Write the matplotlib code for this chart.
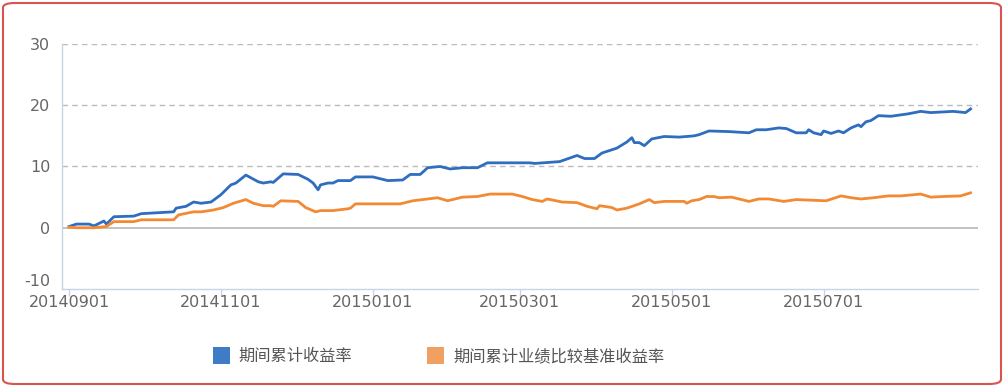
import matplotlib
matplotlib.use("Agg")
import matplotlib.pyplot as plt
from matplotlib.patches import Patch, FancyBboxPatch
import pandas as pd

plt.rcParams['font.family'] = ['Noto Sans CJK SC', 'DejaVu Sans']

series1_name = "期间累计收益率"
series2_name = "期间累计业绩比较基准收益率"

fund_dates = ["2014-09-01", "2014-09-04", "2014-09-09", "2014-09-11", "2014-09-15", "2014-09-16",
              "2014-09-19", "2014-09-27", "2014-09-30", "2014-10-13", "2014-10-14", "2014-10-18",
              "2014-10-21", "2014-10-24", "2014-10-28", "2014-11-01", "2014-11-03", "2014-11-05",
              "2014-11-07", "2014-11-11", "2014-11-16", "2014-11-18", "2014-11-21", "2014-11-22",
              "2014-11-26", "2014-12-02", "2014-12-06", "2014-12-08", "2014-12-10", "2014-12-11",
              "2014-12-14", "2014-12-16", "2014-12-18", "2014-12-23", "2014-12-25", "2015-01-01",
              "2015-01-07", "2015-01-13", "2015-01-16", "2015-01-20", "2015-01-23", "2015-01-28",
              "2015-02-01", "2015-02-06", "2015-02-12", "2015-02-16", "2015-03-05", "2015-03-07",
              "2015-03-17", "2015-03-24", "2015-03-27", "2015-03-31", "2015-04-03", "2015-04-09",
              "2015-04-13", "2015-04-15", "2015-04-16", "2015-04-18", "2015-04-20", "2015-04-23",
              "2015-04-28", "2015-05-04", "2015-05-10", "2015-05-12", "2015-05-16", "2015-05-24",
              "2015-06-01", "2015-06-04", "2015-06-08", "2015-06-13", "2015-06-16", "2015-06-20",
              "2015-06-24", "2015-06-25", "2015-06-27", "2015-06-30", "2015-07-01", "2015-07-04",
              "2015-07-07", "2015-07-09", "2015-07-12", "2015-07-15", "2015-07-16", "2015-07-18",
              "2015-07-20", "2015-07-23", "2015-07-28", "2015-08-04", "2015-08-09", "2015-08-13",
              "2015-08-22", "2015-08-27", "2015-08-29"]
fund_values = [0.2, 0.6, 0.6, 0.3, 1.1, 0.6,
               1.8, 1.9, 2.3, 2.6, 3.2, 3.5,
               4.2, 4.0, 4.2, 5.4, 6.2, 7.0,
               7.3, 8.6, 7.5, 7.3, 7.5, 7.4,
               8.8, 8.7, 7.9, 7.3, 6.2, 7.0,
               7.3, 7.3, 7.7, 7.7, 8.3, 8.3,
               7.7, 7.8, 8.7, 8.7, 9.8, 10.0,
               9.6, 9.8, 9.8, 10.6, 10.6, 10.5,
               10.8, 11.8, 11.3, 11.3, 12.2, 13.0,
               14.0, 14.7, 13.9, 13.9, 13.4, 14.5,
               14.9, 14.8, 15.0, 15.2, 15.8, 15.7,
               15.5, 16.0, 16.0, 16.3, 16.2, 15.5,
               15.5, 16.0, 15.5, 15.2, 15.8, 15.4,
               15.8, 15.5, 16.3, 16.8, 16.5, 17.3,
               17.5, 18.3, 18.2, 18.6, 19.0, 18.8,
               19.0, 18.8, 19.4]

bench_dates = ["2014-09-01", "2014-09-04", "2014-09-11", "2014-09-16", "2014-09-19", "2014-09-27",
               "2014-09-30", "2014-10-13", "2014-10-15", "2014-10-21", "2014-10-24", "2014-10-29",
               "2014-11-02", "2014-11-06", "2014-11-11", "2014-11-14", "2014-11-18", "2014-11-21",
               "2014-11-22", "2014-11-25", "2014-12-02", "2014-12-05", "2014-12-09", "2014-12-11",
               "2014-12-16", "2014-12-22", "2014-12-23", "2014-12-25", "2015-01-12", "2015-01-17",
               "2015-01-27", "2015-01-31", "2015-02-06", "2015-02-12", "2015-02-17", "2015-02-26",
               "2015-03-02", "2015-03-06", "2015-03-10", "2015-03-12", "2015-03-18", "2015-03-24",
               "2015-03-28", "2015-04-01", "2015-04-02", "2015-04-07", "2015-04-09", "2015-04-13",
               "2015-04-18", "2015-04-22", "2015-04-24", "2015-04-28", "2015-05-06", "2015-05-07",
               "2015-05-09", "2015-05-12", "2015-05-15", "2015-05-18", "2015-05-20", "2015-05-25",
               "2015-06-01", "2015-06-05", "2015-06-09", "2015-06-15", "2015-06-20", "2015-07-02",
               "2015-07-08", "2015-07-12", "2015-07-16", "2015-07-21", "2015-07-27", "2015-08-01",
               "2015-08-09", "2015-08-13", "2015-08-18", "2015-08-25", "2015-08-29"]
bench_values = [0.1, 0.0, 0.0, 0.2, 1.0, 1.0,
                1.3, 1.3, 2.1, 2.6, 2.6, 2.9,
                3.3, 4.0, 4.6, 4.0, 3.6, 3.6,
                3.5, 4.4, 4.3, 3.3, 2.6, 2.8,
                2.8, 3.1, 3.2, 3.9, 3.9, 4.4,
                4.9, 4.4, 5.0, 5.1, 5.5, 5.5,
                5.1, 4.6, 4.3, 4.7, 4.2, 4.1,
                3.5, 3.1, 3.6, 3.3, 2.9, 3.2,
                3.9, 4.6, 4.1, 4.3, 4.3, 4.0,
                4.4, 4.6, 5.1, 5.1, 4.9, 5.0,
                4.3, 4.7, 4.7, 4.3, 4.6, 4.4,
                5.2, 4.9, 4.7, 4.9, 5.2, 5.2,
                5.5, 5.0, 5.1, 5.2, 5.7]

xtick_labels = ["20140901", "20141101", "20150101", "20150301", "20150501", "20150701"]
yticks = [-10, 0, 10, 20, 30]

blue = "#2f6dbf"
orange = "#f28a34"
legend_blue = "#3e7cc6"
legend_orange = "#f0a060"
text_color = "#666666"
axis_color = "#c5d5e6"

fig = plt.figure(figsize=(10.04, 3.87), dpi=100)
ax = fig.add_axes([62 / 1004, 1 - 289 / 387, (978 - 62) / 1004, (289 - 44) / 387])

fd = pd.to_datetime(fund_dates)
bd = pd.to_datetime(bench_dates)
ax.plot(fd, fund_values, color=blue, lw=2.0, zorder=3, solid_joinstyle='round')
ax.plot(bd, bench_values, color=orange, lw=2.0, zorder=3, solid_joinstyle='round')

ax.set_ylim(-10, 30)
ax.set_yticks(yticks)
ax.set_yticklabels([str(v) for v in yticks])
ax.set_xlim(pd.Timestamp("2014-08-29 04:00"), pd.Timestamp("2015-09-01"))
xt = pd.to_datetime(xtick_labels, format="%Y%m%d")
ax.set_xticks(xt)
ax.set_xticklabels(xtick_labels)

for y in (10, 20, 30):
    ax.axhline(y, color="#bbbbbb", lw=1.0, ls=(0, (4, 3)), zorder=1)
ax.axhline(0, color="#b8b8b8", lw=1.2, zorder=1)

for s in ("top", "right"):
    ax.spines[s].set_visible(False)
for s in ("left", "bottom"):
    ax.spines[s].set_color(axis_color)
    ax.spines[s].set_linewidth(1.0)

ax.tick_params(axis="y", length=0, pad=8.5, labelsize=11.5, labelcolor=text_color)
ax.tick_params(axis="x", length=5, width=1, color=axis_color, pad=-1, labelsize=11.5, labelcolor=text_color)
for lab in ax.get_xticklabels() + ax.get_yticklabels():
    lab.set_family(["DejaVu Sans"])
# lift the bottom y label slightly so it does not collide with the first date label
ax.get_yticklabels()[0].set_verticalalignment("bottom")

handles = [Patch(facecolor=legend_blue, edgecolor="none", label=series1_name),
           Patch(facecolor=legend_orange, edgecolor="none", label=series2_name)]
leg = fig.legend(handles=handles, loc="center", bbox_to_anchor=(0.437, 0.08), ncol=2,
                 frameon=False, fontsize=11.7, handlelength=1.05, handleheight=1.25,
                 handletextpad=0.55, columnspacing=4.6)
for t in leg.get_texts():
    t.set_color("#555555")

border = FancyBboxPatch((3 / 1004, 3 / 387), 998 / 1004, 381 / 387,
                        boxstyle="round,pad=0,rounding_size=0.012",
                        transform=fig.transFigure, facecolor="none",
                        edgecolor="#d9534f", lw=1.5)
fig.patches.append(border)

fig.savefig("out.png", dpi=100)
